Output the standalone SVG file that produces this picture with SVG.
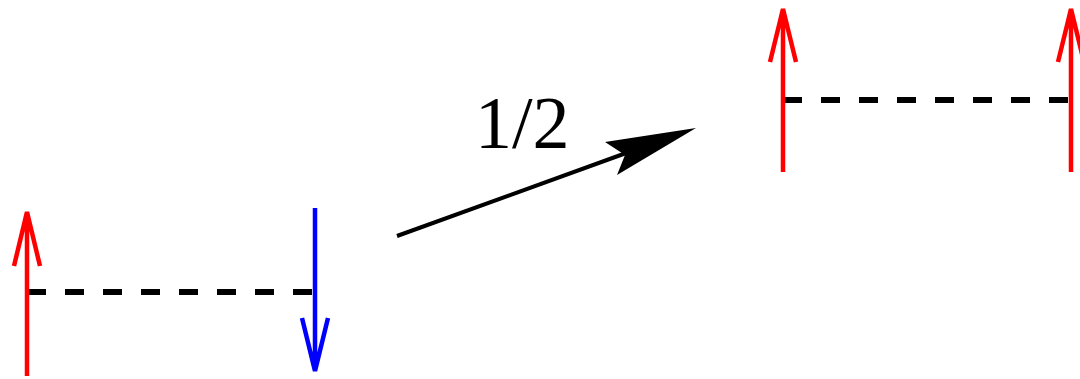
<svg xmlns="http://www.w3.org/2000/svg" width="1080" height="379" viewBox="0 0 1080 379">
<style>
.red{stroke:#ff0000;stroke-width:4.5;fill:none}
.blue{stroke:#0000ff;stroke-width:4.5;fill:none}
.dash{stroke:#000;stroke-width:6;stroke-dasharray:19 19;fill:none}
.lbl{font-family:"Liberation Serif",serif;font-size:74px;fill:#000}
</style>
<g id="left-pair">
<line class="dash" x1="27" y1="292" x2="315" y2="292"/>
<path class="red" d="M27 376V212M14 266L27 212L40 266"/>
<path class="blue" d="M315 208V371M302 318L315 371L328 318"/>
</g>
<g id="connectors">
<line x1="397" y1="236" x2="640" y2="148" stroke="#000" stroke-width="4"/>
<polygon points="696,128 605,142 625,155 617,175" fill="#000"/>
</g>
<g id="label">
<text class="lbl" x="475" y="148">1/2</text>
</g>
<g id="right-pair">
<line class="dash" x1="783" y1="100" x2="1071" y2="100"/>
<path class="red" d="M783 172V9M770 62L783 9L796 62"/>
<path class="red" d="M1071 172V9M1058 62L1071 9L1084 62"/>
</g>
</svg>
